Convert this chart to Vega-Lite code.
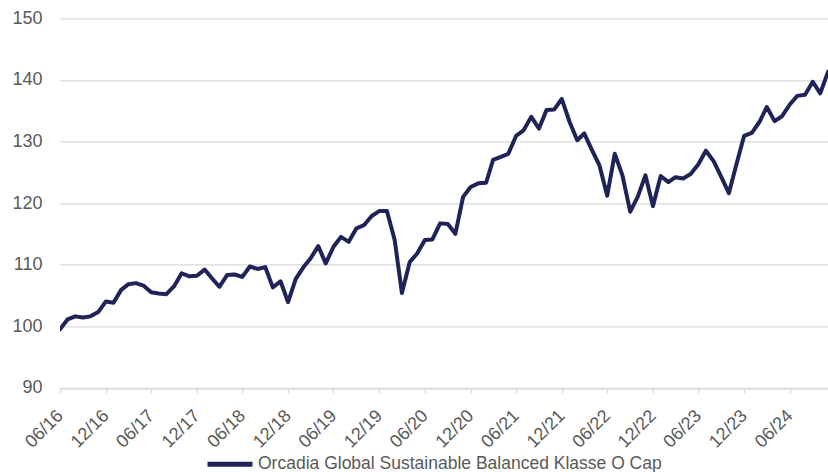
{
  "$schema": "https://vega.github.io/schema/vega-lite/v6.json",
  "width": 768,
  "height": 369.5,
  "autosize": {"type": "none"},
  "padding": {"left": 60, "top": 18.3, "right": 0, "bottom": 84.2},
  "background": "white",
  "config": {"view": {"stroke": null}, "font": "Liberation Sans"},
  "data": {"values": [
    {"date": "2016-06-01", "value": 99.5},
    {"date": "2016-07-01", "value": 101.1},
    {"date": "2016-08-01", "value": 101.6},
    {"date": "2016-09-01", "value": 101.4},
    {"date": "2016-10-01", "value": 101.6},
    {"date": "2016-11-01", "value": 102.3},
    {"date": "2016-12-01", "value": 104.0},
    {"date": "2017-01-01", "value": 103.8},
    {"date": "2017-02-01", "value": 105.9},
    {"date": "2017-03-01", "value": 106.8},
    {"date": "2017-04-01", "value": 107.0},
    {"date": "2017-05-01", "value": 106.6},
    {"date": "2017-06-01", "value": 105.5},
    {"date": "2017-07-01", "value": 105.3},
    {"date": "2017-08-01", "value": 105.2},
    {"date": "2017-09-01", "value": 106.5},
    {"date": "2017-10-01", "value": 108.6},
    {"date": "2017-11-01", "value": 108.1},
    {"date": "2017-12-01", "value": 108.2},
    {"date": "2018-01-01", "value": 109.2},
    {"date": "2018-02-01", "value": 107.7},
    {"date": "2018-03-01", "value": 106.4},
    {"date": "2018-04-01", "value": 108.3},
    {"date": "2018-05-01", "value": 108.4},
    {"date": "2018-06-01", "value": 108.0},
    {"date": "2018-07-01", "value": 109.7},
    {"date": "2018-08-01", "value": 109.3},
    {"date": "2018-09-01", "value": 109.6},
    {"date": "2018-10-01", "value": 106.3},
    {"date": "2018-11-01", "value": 107.3},
    {"date": "2018-12-01", "value": 103.9},
    {"date": "2019-01-01", "value": 107.7},
    {"date": "2019-02-01", "value": 109.6},
    {"date": "2019-03-01", "value": 111.0},
    {"date": "2019-04-01", "value": 113.0},
    {"date": "2019-05-01", "value": 110.2},
    {"date": "2019-06-01", "value": 112.9},
    {"date": "2019-07-01", "value": 114.5},
    {"date": "2019-08-01", "value": 113.7},
    {"date": "2019-09-01", "value": 115.9},
    {"date": "2019-10-01", "value": 116.4},
    {"date": "2019-11-01", "value": 117.9},
    {"date": "2019-12-01", "value": 118.7},
    {"date": "2020-01-01", "value": 118.7},
    {"date": "2020-02-01", "value": 114.0},
    {"date": "2020-03-01", "value": 105.4},
    {"date": "2020-04-01", "value": 110.4},
    {"date": "2020-05-01", "value": 111.8},
    {"date": "2020-06-01", "value": 114.0},
    {"date": "2020-07-01", "value": 114.1},
    {"date": "2020-08-01", "value": 116.7},
    {"date": "2020-09-01", "value": 116.6},
    {"date": "2020-10-01", "value": 115.0},
    {"date": "2020-11-01", "value": 121.0},
    {"date": "2020-12-01", "value": 122.6},
    {"date": "2021-01-01", "value": 123.2},
    {"date": "2021-02-01", "value": 123.3},
    {"date": "2021-03-01", "value": 127.0},
    {"date": "2021-04-01", "value": 127.5},
    {"date": "2021-05-01", "value": 128.0},
    {"date": "2021-06-01", "value": 130.9},
    {"date": "2021-07-01", "value": 131.8},
    {"date": "2021-08-01", "value": 134.0},
    {"date": "2021-09-01", "value": 132.1},
    {"date": "2021-10-01", "value": 135.1},
    {"date": "2021-11-01", "value": 135.2},
    {"date": "2021-12-01", "value": 136.9},
    {"date": "2022-01-01", "value": 133.2},
    {"date": "2022-02-01", "value": 130.2},
    {"date": "2022-03-01", "value": 131.3},
    {"date": "2022-04-01", "value": 128.6},
    {"date": "2022-05-01", "value": 126.1},
    {"date": "2022-06-01", "value": 121.2},
    {"date": "2022-07-01", "value": 128.0},
    {"date": "2022-08-01", "value": 124.5},
    {"date": "2022-09-01", "value": 118.6},
    {"date": "2022-10-01", "value": 121.0},
    {"date": "2022-11-01", "value": 124.5},
    {"date": "2022-12-01", "value": 119.5},
    {"date": "2023-01-01", "value": 124.4},
    {"date": "2023-02-01", "value": 123.4},
    {"date": "2023-03-01", "value": 124.2},
    {"date": "2023-04-01", "value": 124.0},
    {"date": "2023-05-01", "value": 124.7},
    {"date": "2023-06-01", "value": 126.3},
    {"date": "2023-07-01", "value": 128.5},
    {"date": "2023-08-01", "value": 126.8},
    {"date": "2023-09-01", "value": 124.2},
    {"date": "2023-10-01", "value": 121.6},
    {"date": "2023-11-01", "value": 126.4},
    {"date": "2023-12-01", "value": 130.9},
    {"date": "2024-01-01", "value": 131.4},
    {"date": "2024-02-01", "value": 133.2},
    {"date": "2024-03-01", "value": 135.6},
    {"date": "2024-04-01", "value": 133.3},
    {"date": "2024-05-01", "value": 134.1},
    {"date": "2024-06-01", "value": 136.0},
    {"date": "2024-07-01", "value": 137.4},
    {"date": "2024-08-01", "value": 137.6},
    {"date": "2024-09-01", "value": 139.7},
    {"date": "2024-10-01", "value": 137.8},
    {"date": "2024-11-01", "value": 141.3}
  ]},
  "mark": {"type": "line", "strokeWidth": 4, "strokeJoin": "round", "strokeCap": "round", "clip": true},
  "encoding": {
    "x": {
      "field": "date",
      "type": "temporal",
      "scale": {"type": "utc", "domain": [{"year": 2016, "month": 6, "date": 1, "utc": true}, {"year": 2024, "month": 11, "date": 1, "utc": true}]},
      "axis": {
        "values": [
          {"year": 2016, "month": 6, "date": 1, "utc": true},
          {"year": 2016, "month": 12, "date": 1, "utc": true},
          {"year": 2017, "month": 6, "date": 1, "utc": true},
          {"year": 2017, "month": 12, "date": 1, "utc": true},
          {"year": 2018, "month": 6, "date": 1, "utc": true},
          {"year": 2018, "month": 12, "date": 1, "utc": true},
          {"year": 2019, "month": 6, "date": 1, "utc": true},
          {"year": 2019, "month": 12, "date": 1, "utc": true},
          {"year": 2020, "month": 6, "date": 1, "utc": true},
          {"year": 2020, "month": 12, "date": 1, "utc": true},
          {"year": 2021, "month": 6, "date": 1, "utc": true},
          {"year": 2021, "month": 12, "date": 1, "utc": true},
          {"year": 2022, "month": 6, "date": 1, "utc": true},
          {"year": 2022, "month": 12, "date": 1, "utc": true},
          {"year": 2023, "month": 6, "date": 1, "utc": true},
          {"year": 2023, "month": 12, "date": 1, "utc": true},
          {"year": 2024, "month": 6, "date": 1, "utc": true}
        ],
        "format": "%m/%y",
        "title": null,
        "grid": false,
        "labelAngle": -45,
        "labelAlign": "right",
        "labelBaseline": "middle",
        "labelFontSize": 18,
        "labelColor": "#595959",
        "labelPadding": 20,
        "labelOverlap": false,
        "labelFlush": false,
        "labelBound": false,
        "domainColor": "#D9D9D9",
        "domainWidth": 1.3,
        "tickColor": "#D9D9D9",
        "tickWidth": 1.3,
        "tickSize": 5
      }
    },
    "y": {
      "field": "value",
      "type": "quantitative",
      "scale": {"domain": [90, 150], "nice": false, "zero": false},
      "axis": {
        "values": [90, 100, 110, 120, 130, 140, 150],
        "title": null,
        "grid": true,
        "gridColor": "#D9D9D9",
        "gridWidth": 1.3,
        "domain": false,
        "ticks": false,
        "labelFontSize": 18,
        "labelColor": "#595959",
        "labelPadding": 18
      }
    },
    "color": {
      "datum": "Orcadia Global Sustainable Balanced Klasse O Cap",
      "type": "nominal",
      "scale": {"range": ["#1F2358"]},
      "legend": {
        "orient": "none",
        "legendX": 145,
        "legendY": 421,
        "title": null,
        "symbolType": "stroke",
        "symbolSize": 2025,
        "symbolStrokeWidth": 5,
        "labelFontSize": 17.5,
        "labelColor": "#595959",
        "labelOffset": 3,
        "labelLimit": 0
      }
    }
  }
}
